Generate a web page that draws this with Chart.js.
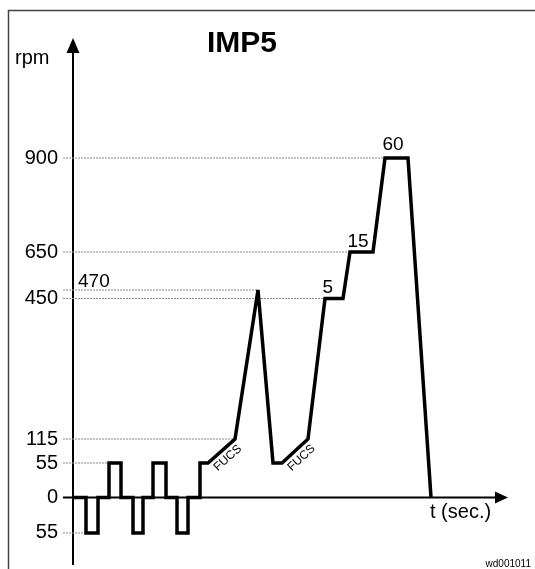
<!DOCTYPE html>
<html><head><meta charset="utf-8">
<script src="https://cdn.jsdelivr.net/npm/chart.js@4"></script>
<style>html,body{margin:0;padding:0;background:#fff;}canvas{display:block;}</style>
</head><body>
<canvas id="c" width="535" height="569"></canvas>
<script>
// ---- data (time in arbitrary units, rpm) ----
const timeValues = [0,2.6,2.6,5,5,7.2,7.2,9.6,9.6,12,12,14,14,16,16,18.6,18.6,20.8,20.8,23,23,25.4,25.4,27,32.4,37,40,41.8,47,50.4,54,55.4,60,62.4,67,71.6];
const rpmValues  = [0,0,-55,-55,0,0,55,55,0,0,-55,-55,0,0,55,55,0,0,-55,-55,0,0,55,55,115,470,55,55,115,450,450,650,650,900,900,0];
const tickValues = [-55,0,55,115,450,650,900];
const tickLabels = ['55','0','55','115','450','650','900'];
const refLevels = [900,650,470,450,115,55,-55];
const refEnds   = [62.4,55.4,37,50.4,32.4,7.2,2.6];
const plateauLabels = ['5','15','60'];
const plateauStart  = [29,31,33];
const segmentLabels = ['FUCS','FUCS'];
const segmentStart  = [23,27];
const peakLabel = '470';
const peakValue = 470;
const titleText = 'IMP5';
const yAxisTitle = 'rpm';
const xAxisTitle = 't (sec.)';
const footerText = 'wd001011';
// irregular rpm axis: knot values and their fractional positions on the axis
const axisKnotValues    = [-105,-55,0,55,115,450,470,650,900,1214];
const axisKnotFractions = [0,0.0610,0.1286,0.1943,0.2400,0.5076,0.5238,0.5962,0.7752,1];

const FONT = 'Arial, "Liberation Sans", sans-serif';

class PiecewiseScale extends Chart.LinearScale {
  getPixelForValue(value) {
    const kv = axisKnotValues, kf = axisKnotFractions;
    let i = 0;
    while (i < kv.length - 2 && value > kv[i + 1]) i++;
    const f = kf[i] + (value - kv[i]) / (kv[i + 1] - kv[i]) * (kf[i + 1] - kf[i]);
    return this.bottom - f * (this.bottom - this.top);
  }
  getValueForPixel(pixel) {
    const kv = axisKnotValues, kf = axisKnotFractions;
    const f = (this.bottom - pixel) / (this.bottom - this.top);
    let i = 0;
    while (i < kf.length - 2 && f > kf[i + 1]) i++;
    return kv[i] + (f - kf[i]) / (kf[i + 1] - kf[i]) * (kv[i + 1] - kv[i]);
  }
}
PiecewiseScale.id = 'piecewise';
PiecewiseScale.defaults = {};
Chart.register(PiecewiseScale);

const mainData = timeValues.map((t, i) => ({x: t, y: rpmValues[i]}));
const datasets = [{
  data: mainData, borderColor: '#000', borderWidth: 3.5, pointRadius: 0,
  tension: 0, fill: false, borderJoinStyle: 'miter', borderCapStyle: 'butt'
}];
refLevels.forEach((lv, i) => {
  datasets.push({
    data: [{x: -2, y: lv}, {x: refEnds[i], y: lv}],
    borderColor: '#8a8a8a', borderWidth: 1, borderDash: [2, 1], pointRadius: 0, tension: 0, fill: false
  });
});

const decor = {
  id: 'decor',
  beforeDraw(chart) {
    const ctx = chart.ctx;
    ctx.save();
    ctx.fillStyle = '#fff';
    ctx.fillRect(0, 0, chart.width, chart.height);
    ctx.strokeStyle = '#444';
    ctx.lineWidth = 1.5;
    ctx.beginPath();
    ctx.moveTo(8.5, chart.height);
    ctx.lineTo(8.5, 10.5);
    ctx.lineTo(chart.width, 10.5);
    ctx.stroke();
    ctx.restore();
  },
  beforeDatasetsDraw(chart) {
    const {ctx, chartArea: a, scales: {x, y}} = chart;
    const x0 = x.getPixelForValue(0), y0 = y.getPixelForValue(0);
    ctx.save();
    ctx.strokeStyle = '#000'; ctx.fillStyle = '#000'; ctx.lineWidth = 2;
    ctx.beginPath();
    ctx.moveTo(x0, a.bottom); ctx.lineTo(x0, a.top + 12);
    ctx.moveTo(a.left, y0); ctx.lineTo(a.right - 16, y0);
    ctx.stroke();
    ctx.beginPath();
    ctx.moveTo(x0, a.top - 2); ctx.lineTo(x0 - 6.5, a.top + 13); ctx.lineTo(x0 + 6.5, a.top + 13); ctx.closePath();
    ctx.fill();
    ctx.beginPath();
    ctx.moveTo(a.right - 4, y0); ctx.lineTo(a.right - 17, y0 - 6); ctx.lineTo(a.right - 17, y0 + 6); ctx.closePath();
    ctx.fill();
    ctx.restore();
    // limit long miter spikes at the sharp peak (square corners stay mitered)
    ctx.miterLimit = 2.6;
  },
  afterDatasetsDraw(chart) {
    const {ctx, chartArea: a, scales: {x, y}} = chart;
    ctx.miterLimit = 10;
    ctx.save();
    ctx.fillStyle = '#000';
    // title
    ctx.font = 'bold 30px ' + FONT;
    ctx.textAlign = 'center'; ctx.textBaseline = 'alphabetic';
    ctx.fillText(titleText, 242, 52);
    // axis titles
    ctx.font = '20px ' + FONT;
    ctx.textAlign = 'left';
    ctx.fillText(yAxisTitle, 15, 64);
    ctx.fillText(xAxisTitle, x.getPixelForValue(timeValues[timeValues.length - 1]) - 1, y.getPixelForValue(0) + 21);
    // peak level label
    ctx.font = '19px ' + FONT;
    ctx.fillText(peakLabel, x.getPixelForValue(0) + 5, y.getPixelForValue(peakValue) - 3);
    // plateau labels
    const plOff = [6, 5, 8];
    plateauLabels.forEach((lab, i) => {
      const idx = plateauStart[i];
      const px = x.getPixelForValue(timeValues[idx]), py = y.getPixelForValue(rpmValues[idx]);
      ctx.fillText(lab, px - 2.5, py - plOff[i]);
    });
    // segment labels (rotated along ramp)
    ctx.font = '12px ' + FONT;
    ctx.textAlign = 'center'; ctx.textBaseline = 'middle';
    segmentLabels.forEach((lab, i) => {
      const idx = segmentStart[i];
      const x1 = x.getPixelForValue(timeValues[idx]), y1 = y.getPixelForValue(rpmValues[idx]);
      const x2 = x.getPixelForValue(timeValues[idx + 1]), y2 = y.getPixelForValue(rpmValues[idx + 1]);
      const dx = x2 - x1, dy = y2 - y1, len = Math.hypot(dx, dy);
      const nx = -dy / len, ny = dx / len;
      const cx = (x1 + x2) / 2 + nx * 9.5, cy = (y1 + y2) / 2 + ny * 9.5;
      ctx.save();
      ctx.translate(cx, cy);
      ctx.rotate(Math.atan2(dy, dx));
      ctx.fillText(lab, 0, 0);
      ctx.restore();
    });
    // footer
    ctx.font = '10px ' + FONT;
    ctx.textAlign = 'right'; ctx.textBaseline = 'alphabetic';
    ctx.fillText(footerText, 531, 567);
    ctx.restore();
  }
};

new Chart(document.getElementById('c'), {
  type: 'line',
  data: {datasets},
  options: {
    responsive: false, animation: false, devicePixelRatio: 1,
    layout: {padding: {left: 23, right: 23, top: 40, bottom: 4}},
    plugins: {legend: {display: false}, tooltip: {enabled: false}, title: {display: false}},
    scales: {
      x: {type: 'linear', min: -2, max: 87.8, display: false},
      y: {
        type: 'piecewise', min: -105, max: 1214,
        afterBuildTicks: s => { s.ticks = tickValues.map(v => ({value: v})); },
        afterFit: s => { s.width = 40; s.paddingTop = 0; s.paddingBottom = 0; },
        ticks: {callback: (v, i) => tickLabels[i], font: {family: FONT, size: 20}, color: '#000', padding: 5, autoSkip: false},
        grid: {display: false, drawTicks: false},
        border: {display: false}
      }
    }
  },
  plugins: [decor]
});
</script>
</body></html>
